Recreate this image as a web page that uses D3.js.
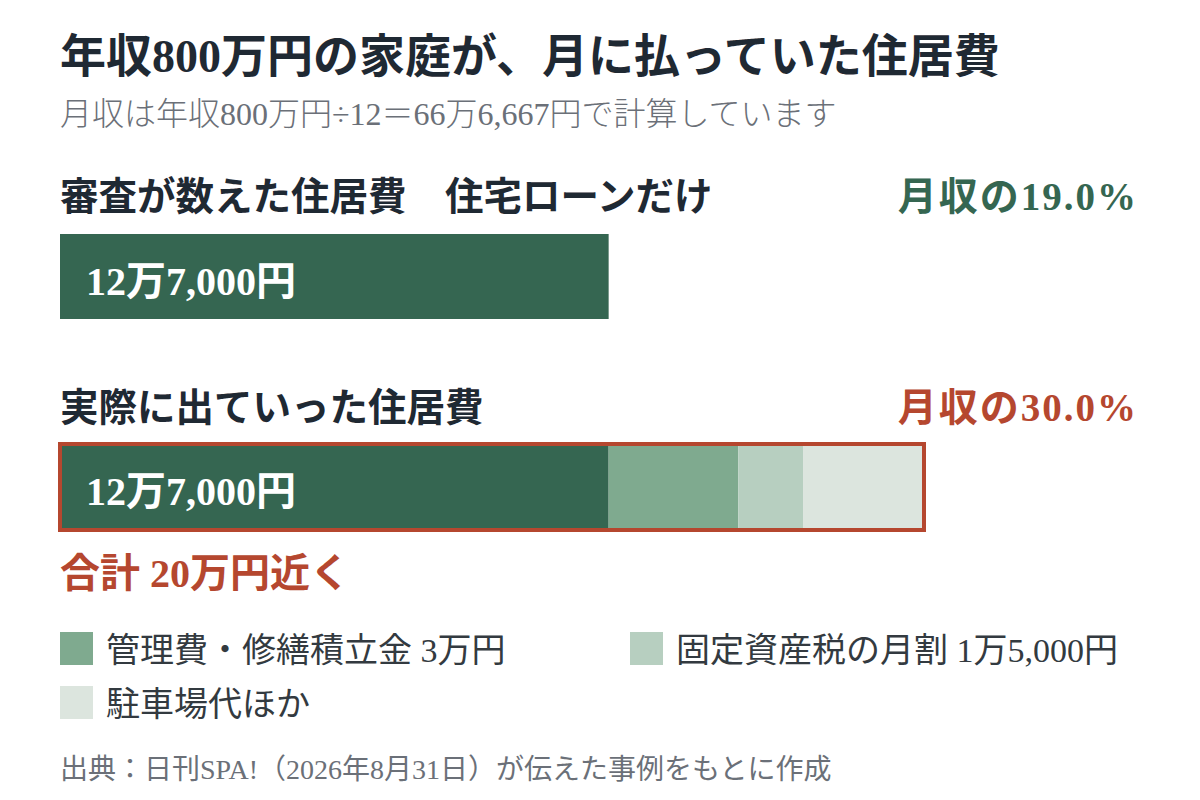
<!DOCTYPE html>
<html><head><meta charset="utf-8">
<script src="https://cdn.jsdelivr.net/npm/d3@7"></script>
<style>
html,body{margin:0;padding:0;background:#fff;}
svg text{font-family:"Liberation Serif","Noto Sans CJK JP",serif;}
</style></head>
<body>
<svg id="chart" width="1200" height="800"></svg>
<script>
const title = "年収800万円の家庭が、月に払っていた住居費";
const subtitle = "月収は年収800万円÷12＝66万6,667円で計算しています";
const rowLabels = ["審査が数えた住居費　住宅ローンだけ", "実際に出ていった住居費"];
const rowShares = ["月収の19.0%", "月収の30.0%"];
const categories = ["住宅ローン", "管理費・修繕積立金", "固定資産税の月割", "駐車場代ほか"];
const screenedValues = [127000];
const actualValues = [127000, 30000, 15000, 28000];
const legendLabels = ["管理費・修繕積立金 3万円", "固定資産税の月割 1万5,000円", "駐車場代ほか"];
const barLabel = "12万7,000円";
const totalLabel = "合計 20万円近く";
const source = "出典：日刊SPA!（2026年8月31日）が伝えた事例をもとに作成";

const colors = ["#356651", "#7faa8f", "#b7cfc0", "#dce5de"];
const ink = "#1f2933", green = "#356651", red = "#b5472f", gray = "#6b7078";

const svg = d3.select("#chart");
const x = d3.scaleLinear().domain([0, 200000]).range([60, 924]);

svg.append("text").attr("x", 60).attr("y", 72).attr("font-size", 46).attr("font-weight", 700)
  .attr("fill", ink).text(title);
svg.append("text").attr("x", 60).attr("y", 125).attr("font-size", 32).attr("font-weight", 300)
  .attr("fill", gray).text(subtitle);

// Row headings
const headY = [210, 421];
rowLabels.forEach((t, i) => {
  svg.append("text").attr("x", 60).attr("y", headY[i]).attr("font-size", 38.5).attr("font-weight", 700)
    .attr("fill", ink).text(t);
  svg.append("text").attr("x", 1138).attr("y", headY[i]).attr("text-anchor", "end")
    .attr("font-size", 39).attr("font-weight", 700).attr("letter-spacing", 2)
    .attr("fill", i === 0 ? green : red).text(rowShares[i]);
});

// Bar 1
svg.selectAll("rect.b1").data(screenedValues).enter().append("rect").attr("class", "b1")
  .attr("x", x(0)).attr("y", 234).attr("width", d => x(d) - x(0)).attr("height", 85)
  .attr("fill", colors[0]);
svg.append("text").attr("x", 86).attr("y", 295).attr("font-size", 40).attr("font-weight", 700)
  .attr("fill", "#fff").text(barLabel);

// Bar 2 stacked
let acc = 0;
const stack = actualValues.map((v, i) => { const s = {x0: acc, x1: acc + v, i}; acc += v; return s; });
svg.selectAll("rect.b2").data(stack).enter().append("rect").attr("class", "b2")
  .attr("x", d => x(d.x0)).attr("y", 444).attr("width", d => x(d.x1) - x(d.x0)).attr("height", 86)
  .attr("fill", d => colors[d.i]);
svg.append("rect").attr("x", x(0)).attr("y", 444).attr("width", x(acc) - x(0)).attr("height", 86)
  .attr("fill", "none").attr("stroke", red).attr("stroke-width", 4);
svg.append("text").attr("x", 86).attr("y", 505).attr("font-size", 40).attr("font-weight", 700)
  .attr("fill", "#fff").text(barLabel);

svg.append("text").attr("x", 60).attr("y", 587).attr("font-size", 40).attr("font-weight", 700)
  .attr("fill", red).text(totalLabel);

// Legend
const legPos = [[60, 632], [630, 632], [60, 686]];
legendLabels.forEach((t, i) => {
  const [lx, ly] = legPos[i];
  svg.append("rect").attr("x", lx).attr("y", ly).attr("width", 33).attr("height", 33)
    .attr("fill", colors[i + 1]);
  svg.append("text").attr("x", lx + 46).attr("y", ly + 30).attr("font-size", 34).attr("font-weight", 400)
    .attr("fill", "#333a40").text(t);
});

svg.append("text").attr("x", 60).attr("y", 779).attr("font-size", 28).attr("font-weight", 400)
  .attr("fill", gray).text(source);
</script>
</body></html>
